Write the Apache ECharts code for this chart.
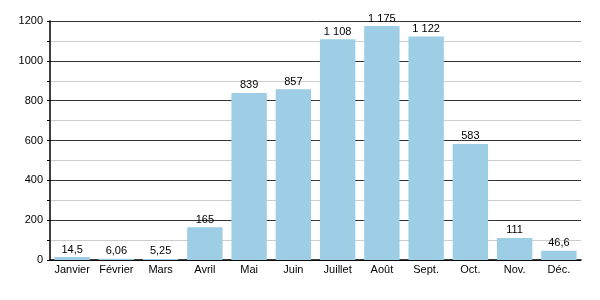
<!DOCTYPE html>
<html><head><meta charset="utf-8">
<script src="https://cdn.jsdelivr.net/npm/echarts@6/dist/echarts.min.js"></script>
<style>html,body{margin:0;padding:0;background:#fff}#c{width:600px;height:300px}</style>
</head><body><div id="c"></div>
<script>
const categories = ["Janvier","Février","Mars","Avril","Mai","Juin","Juillet","Août","Sept.","Oct.","Nov.","Déc."];
const values = [14.5, 6.06, 5.25, 165, 839, 857, 1108, 1175, 1122, 583, 111, 46.6];
const yTicks = [0, 200, 400, 600, 800, 1000, 1200];

function fmt(v){
  const parts = String(v).split('.');
  parts[0] = parts[0].replace(/\B(?=(\d{3})+(?!\d))/g, ' ');
  return parts.join(',');
}
const chart = echarts.init(document.getElementById('c'), null, {renderer:'canvas'});
chart.setOption({
  animation:false,
  textStyle:{fontFamily:'Liberation Sans, Arial, sans-serif'},
  grid:{left:50,right:19,top:21,bottom:40,containLabel:false},
  xAxis:{type:'category',data:categories,
    axisLine:{lineStyle:{color:'#000',width:1.5}},
    axisTick:{show:false},
    axisLabel:{color:'#000',fontSize:11,margin:4,interval:0}},
  yAxis:{type:'value',min:yTicks[0],max:yTicks[yTicks.length-1],interval:200,
    axisLine:{show:true,lineStyle:{color:'#000',width:1.5}},
    axisTick:{show:true,length:3,lineStyle:{color:'#000'}},
    minorTick:{show:true,splitNumber:2,length:3,lineStyle:{color:'#000'}},
    splitLine:{lineStyle:{color:'#333',width:1}},
    minorSplitLine:{show:true,lineStyle:{color:'#ccc',width:1}},
    axisLabel:{color:'#000',fontSize:11,margin:7,formatter:v=>String(v)}},
  series:[{type:'bar',data:values,barCategoryGap:'20%',
    itemStyle:{color:'#9ecde6'},
    label:{show:true,position:'top',color:'#000',fontSize:11,distance:2,formatter:p=>fmt(p.value)}}]
});
</script></body></html>
